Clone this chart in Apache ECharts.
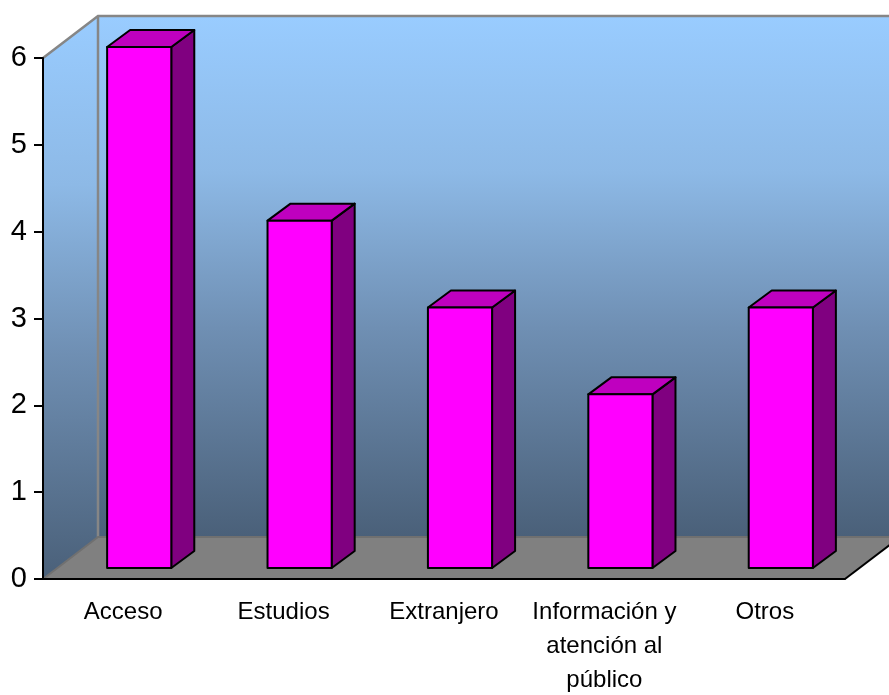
<!DOCTYPE html>
<html>
<head>
<meta charset="utf-8">
<script src="https://cdn.jsdelivr.net/npm/echarts@6/dist/echarts.min.js"></script>
<style>html,body{margin:0;padding:0;background:#fff}#c{width:889px;height:695px}</style>
</head>
<body>
<div id="c"></div>
<script>
var categories = ['Acceso', 'Estudios', 'Extranjero', 'Información y\natención al\npúblico', 'Otros'];
var values = [6, 4, 3, 2, 3];
var yTicks = [0, 1, 2, 3, 4, 5, 6];

var WALL_DX = 55, WALL_DY = 42;      // depth of the room
var BAR_OFF_X = 16, BAR_OFF_Y = 11;  // bar position inside the room
var BAR_DX = 23, BAR_DY = 17;        // depth of one bar
var EDGE = '#868686';
var wallStops = [
  {offset: 0, color: '#99CCFF'},
  {offset: 0.3, color: '#8DB9E6'},
  {offset: 0.6, color: '#6F8FB3'},
  {offset: 1, color: '#4A6079'}
];

function grad() {
  return new echarts.graphic.LinearGradient(0, 0, 0, 1, wallStops);
}

function renderRoom(params, api) {
  var c = params.coordSys;
  var l = c.x, r = c.x + c.width, t = c.y, b = c.y + c.height;
  var bl = l + WALL_DX, tt = t - WALL_DY, bb = b - WALL_DY, br = r + WALL_DX;
  return {
    type: 'group',
    children: [
      {type: 'polygon', shape: {points: [[bl, tt], [br, tt], [br, bb], [bl, bb]]},
        style: {fill: grad(), stroke: null}},
      {type: 'polygon', shape: {points: [[l, t], [bl, tt], [bl, bb], [l, b]]},
        style: {fill: grad(), stroke: null}},
      {type: 'polygon', shape: {points: [[l, b], [bl, bb], [br, bb], [r, b]]},
        style: {fill: '#808080', stroke: null}},
      {type: 'polyline', shape: {points: [[l, t], [bl, tt], [br, tt]]},
        style: {fill: null, stroke: EDGE, lineWidth: 2.5}},
      {type: 'line', shape: {x1: bl, y1: tt, x2: bl, y2: bb},
        style: {stroke: EDGE, lineWidth: 2.5}},
      {type: 'polyline', shape: {points: [[l, b], [bl, bb], [br, bb]]},
        style: {fill: null, stroke: '#707070', lineWidth: 2}},
      {type: 'line', shape: {x1: r, y1: b, x2: br, y2: bb},
        style: {stroke: '#000', lineWidth: 2}}
    ]
  };
}

function renderBar(params, api) {
  var top = api.coord([api.value(0), api.value(1)]);
  var base = api.coord([api.value(0), 0]);
  var w = api.size([1, 0])[0] * 0.4;
  var x0 = top[0] + BAR_OFF_X - w / 2, x1 = x0 + w;
  var y0 = top[1] - BAR_OFF_Y, y1 = base[1] - BAR_OFF_Y;
  var s = {stroke: '#000', lineWidth: 2, lineJoin: 'round'};
  return {
    type: 'group',
    children: [
      {type: 'polygon', shape: {points: [[x1, y0], [x1 + BAR_DX, y0 - BAR_DY], [x1 + BAR_DX, y1 - BAR_DY], [x1, y1]]},
        style: Object.assign({fill: '#800080'}, s)},
      {type: 'polygon', shape: {points: [[x0, y0], [x0 + BAR_DX, y0 - BAR_DY], [x1 + BAR_DX, y0 - BAR_DY], [x1, y0]]},
        style: Object.assign({fill: '#BF00BF'}, s)},
      {type: 'rect', shape: {x: x0, y: y0, width: w, height: y1 - y0},
        style: Object.assign({fill: '#FF00FF'}, s)}
    ]
  };
}

var chart = echarts.init(document.getElementById('c'), null, {renderer: 'canvas'});
chart.setOption({
  animation: false,
  backgroundColor: '#fff',
  grid: {left: 43, right: 44, top: 58, bottom: 116, containLabel: false, outerBoundsMode: 'none'},
  xAxis: {
    type: 'category',
    data: categories,
    z: 5,
    axisLine: {show: true, lineStyle: {color: '#000', width: 2}},
    axisTick: {show: false},
    axisLabel: {
      interval: 0, color: '#000', fontFamily: 'Liberation Sans, Arial, sans-serif',
      fontSize: 24, lineHeight: 34, margin: 16, verticalAlign: 'top'
    }
  },
  yAxis: {
    type: 'value',
    min: yTicks[0],
    max: yTicks[yTicks.length - 1],
    interval: 1,
    z: 5,
    splitLine: {show: false},
    axisLine: {show: true, lineStyle: {color: '#000', width: 2}},
    axisTick: {show: true, length: 9, lineStyle: {color: '#000', width: 2}},
    axisLabel: {color: '#000', fontFamily: 'Liberation Sans, Arial, sans-serif', fontSize: 29, margin: 16}
  },
  series: [
    {type: 'custom', z: 1, silent: true, clip: false, renderItem: renderRoom, data: [[0, 0]],
      encode: {x: 0, y: 1}},
    {type: 'custom', z: 6, silent: true, clip: false, renderItem: renderBar,
      data: values.map(function (v, i) { return [i, v]; }),
      encode: {x: 0, y: 1}}
  ]
});
</script>
</body>
</html>
